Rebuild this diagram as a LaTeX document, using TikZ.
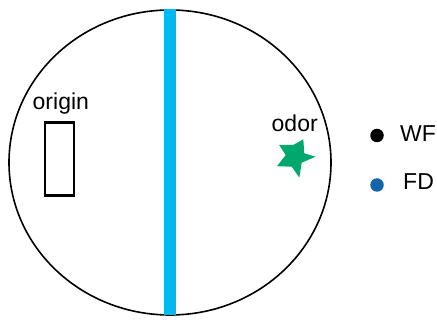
\documentclass[tikz,border=0pt]{standalone}
\usepackage{fontspec}
\setmainfont{Liberation Sans}
\definecolor{barblue}{RGB}{0,185,240}
\definecolor{stargreen}{RGB}{0,168,110}
\definecolor{fdblue}{RGB}{20,100,170}
\tikzset{
  lbl/.style={anchor=base west, inner sep=0pt, font=\fontsize{23}{27}\selectfont},
  legdot/.style={circle, inner sep=0pt, minimum size=13.5pt},
}
\begin{document}
\begin{tikzpicture}[x=1pt,y=-1pt]
\useasboundingbox (0,0) rectangle (437,320);
\draw[line width=1.6pt] (170,162.5) ellipse [x radius=161, y radius=152.5];
\fill[barblue] (164,9.5) rectangle (176,315.5);
\node[draw, line width=2.4pt, inner sep=0pt, minimum width=29pt, minimum height=73pt] (origin) at (59.2,159.2) {};
\node[lbl] (originlbl) at (32.5,110) {origin};
\node[lbl] (odorlbl) at (271.5,132) {odor};
\coordinate (odor) at (294.8,157);
\fill[stargreen] (303.3,139.3) -- (304.3,153.3) -- (315.5,156.7) -- (301.7,162.7) -- (299.3,177.5)
  -- (291.7,166.7) -- (277,166.2) -- (285.7,155) -- (279,144.8) -- (293.3,145) -- cycle;
\node[legdot, fill=black] (wfdot) at (377,135.5) {};
\node[lbl] (wf) at (400,142) {WF};
\node[legdot, fill=fdblue] (fddot) at (377,185) {};
\node[lbl] (fd) at (403,190) {FD};
\end{tikzpicture}
\end{document}
